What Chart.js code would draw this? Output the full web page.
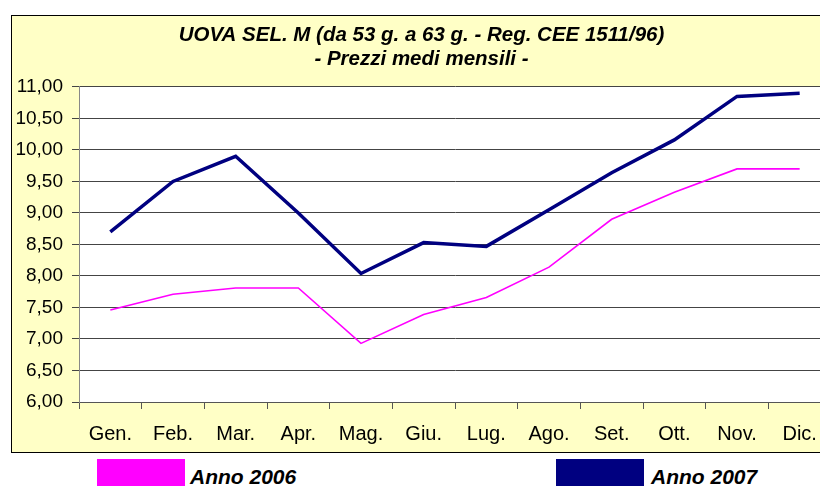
<!DOCTYPE html>
<html>
<head>
<meta charset="utf-8">
<script src="https://cdn.jsdelivr.net/npm/chart.js@4"></script>
<style>
    body { margin: 0; width: 820px; height: 486px; overflow: hidden; background: #fff; font-family: "Liberation Sans", Arial, sans-serif; }
    #box { position: absolute; left: 11px; top: 15px; width: 834px; height: 436px; border: 1px solid #000; background: #FFFFC6; }
    #box canvas { display: block; }
    .swatch { position: absolute; top: 459px; width: 88px; height: 30px; }
    .legText { position: absolute; top: 465px; font: italic bold 21px "Liberation Sans", Arial, sans-serif; color: #000; }
</style>
</head>
<body>
<div id="box"><canvas id="priceChart" width="834" height="436"></canvas></div>
<div id="legend"></div>

<script>
// UOVA SEL. M - prezzi medi mensili
const months = ['Gen.', 'Feb.', 'Mar.', 'Apr.', 'Mag.', 'Giu.', 'Lug.', 'Ago.', 'Set.', 'Ott.', 'Nov.', 'Dic.'];
const anno2006 = [7.46, 7.71, 7.81, 7.81, 6.93, 7.39, 7.66, 8.14, 8.90, 9.33, 9.70, 9.70];
const anno2007 = [8.70, 9.50, 9.90, 9.00, 8.04, 8.53, 8.47, 9.05, 9.64, 10.16, 10.85, 10.90];
const seriesNames = ['Anno 2006', 'Anno 2007'];
const seriesColors = ['#FF00FF', '#000080'];
const yMin = 6, yMax = 11, yStep = 0.5;

const titleLines = ['UOVA SEL. M (da 53 g. a 63 g. - Reg. CEE 1511/96)', '- Prezzi medi mensili -'];

// white plot area on the yellow box
const plotBackground = {
    id: 'plotBackground',
    beforeDraw(chart) {
        const a = chart.chartArea;
        const ctx = chart.ctx;
        ctx.save();
        ctx.fillStyle = '#ffffff';
        ctx.fillRect(a.left, a.top, a.right - a.left, a.bottom - a.top);
        ctx.restore();
    }
};

const ctx = document.getElementById('priceChart').getContext('2d');
new Chart(ctx, {
    type: 'line',
    data: {
        labels: months,
        datasets: [
            {
                label: seriesNames[0],
                data: anno2006,
                borderColor: seriesColors[0],
                borderWidth: 1.6,
                pointRadius: 0,
                tension: 0
            },
            {
                label: seriesNames[1],
                data: anno2007,
                borderColor: seriesColors[1],
                borderWidth: 3.5,
                pointRadius: 0,
                tension: 0
            }
        ]
    },
    options: {
        responsive: false,
        animation: false,
        layout: { padding: { left: 0, right: 15, top: 0, bottom: 0 } },
        plugins: {
            legend: { display: false },
            tooltip: { enabled: false },
            title: {
                display: true,
                text: titleLines,
                color: '#000',
                font: { family: '"Liberation Sans", Arial, sans-serif', size: 20.5, weight: 'bold', style: 'italic', lineHeight: 1.17 },
                padding: { top: 7, bottom: 16 }
            }
        },
        scales: {
            x: {
                offset: true,
                grid: { display: true, drawOnChartArea: false, drawTicks: true, tickLength: 7, color: '#555', offset: true },
                border: { color: '#555' },
                ticks: {
                    color: '#000',
                    padding: 13,
                    maxRotation: 0,
                    font: { family: '"Liberation Sans", Arial, sans-serif', size: 20 }
                },
                afterFit(scale) { scale.height = 50; }
            },
            y: {
                min: yMin,
                max: yMax,
                grid: { color: '#444', tickLength: 7 },
                border: { color: '#888' },
                ticks: {
                    stepSize: yStep,
                    color: '#000',
                    padding: 9,
                    font: { family: '"Liberation Sans", Arial, sans-serif', size: 19 },
                    callback: v => v.toFixed(2).replace('.', ',')
                },
                afterFit(scale) { scale.width = 67; }
            }
        }
    },
    plugins: [plotBackground]
});

// legend below the box
const legendPos = [{ box: 97, text: 190 }, { box: 556, text: 651 }];
let html = '';
seriesNames.forEach((name, i) => {
    html += `<div class="swatch" style="left:${legendPos[i].box}px;background:${seriesColors[i]}"></div>`;
    html += `<div class="legText" style="left:${legendPos[i].text}px">${name}</div>`;
});
document.getElementById('legend').innerHTML = html;
</script>
</body>
</html>
